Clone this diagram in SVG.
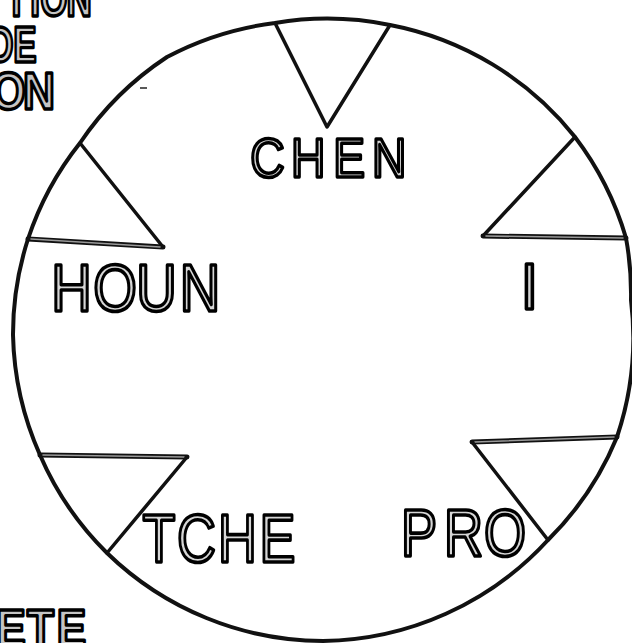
<svg xmlns="http://www.w3.org/2000/svg" width="632" height="643" viewBox="0 0 632 643">
<style>
.bg{fill:#fff}
.ring{fill:none;stroke:#111;stroke-width:4;stroke-linejoin:round}
.edge{fill:none;stroke:#111;stroke-width:3.5;stroke-linejoin:round;stroke-linecap:round}
.hatch{fill:none;stroke:#111;stroke-width:5;stroke-linecap:round}
.hatch-in{fill:none;stroke:#9a9a9a;stroke-width:1.6;stroke-linecap:round}
.lbl{font-family:"Liberation Sans",Arial,sans-serif;fill:#d6d6d6;stroke:#000;stroke-width:3.6;stroke-linejoin:round;text-anchor:middle}
.frag{font-family:"Liberation Sans",Arial,sans-serif;font-weight:bold;fill:#c4c4c4;stroke:#000;stroke-width:3.4;stroke-linejoin:round;text-anchor:middle}
</style>
<rect class="bg" x="0" y="0" width="632" height="643"/>
<g id="ring">
<path class="ring" d="M275,23 A311,311 0 0 1 390,25 A311,311 0 0 1 575,137 A311,311 0 0 1 626,238 A311,311 0 0 1 631,300 A311,311 0 0 1 617,437 A311,311 0 0 1 548,540 A311,311 0 0 1 323,641 A311,311 0 0 1 107,553 A311,311 0 0 1 40,455 A311,311 0 0 1 13,335 A311,311 0 0 1 28,239 A311,311 0 0 1 80,143 A311,311 0 0 1 167,57 A311,311 0 0 1 275,23 Z"/>
</g>
<g id="triangles">
<polyline class="edge" points="275,23 327,127 390,25"/>
<polyline class="edge" points="80,143 163,247"/>
<line class="hatch" x1="163" y1="247" x2="28" y2="239"/>
<line class="hatch-in" x1="160" y1="247" x2="31" y2="239"/>
<polyline class="edge" points="575,137 483,236"/>
<line class="hatch" x1="483" y1="236" x2="626" y2="238"/>
<line class="hatch-in" x1="486" y1="236" x2="623" y2="238"/>
<line class="hatch" x1="617" y1="437" x2="472" y2="442"/>
<line class="hatch-in" x1="614" y1="437" x2="475" y2="442"/>
<polyline class="edge" points="472,442 548,540"/>
<line class="hatch" x1="40" y1="455" x2="187" y2="457"/>
<line class="hatch-in" x1="43" y1="455" x2="184" y2="457"/>
<polyline class="edge" points="187,457 107,553"/>
</g>
<g id="labels">
<text id="chen" class="lbl" font-size="56" transform="translate(0,177) scale(0.85,1)" x="314.7 362.7 410.8 457.9" y="0">CHEN</text>
<text id="houn" class="lbl" font-size="66" transform="translate(0,311) scale(0.85,1)" x="84.1 135.3 184.1 235.3" y="0">HOUN</text>
<text id="i" class="lbl" font-size="64" x="529.5" y="309">I</text>
<text id="tche" class="lbl" font-size="69" transform="translate(0,562) scale(0.78,1)" x="203.8 251.9 304.5 355.8" y="0">TCHE</text>
<text id="pro" class="lbl" font-size="66" transform="translate(0,556) scale(0.82,1)" x="511 565.2 615.9" y="0">PRO</text>
</g>
<g id="fragments">
<text class="frag" font-size="50" transform="translate(0,16) scale(0.7,1)" x="23.6 50 77.1 112.9" y="0">TION</text>
<text class="frag" font-size="50" transform="translate(0,62) scale(0.7,1)" x="1.4 35.7" y="0">DE</text>
<text class="frag" font-size="52" transform="translate(0,109) scale(0.85,1)" x="10 45.9" y="0">ON</text>
<text class="frag" font-size="52" transform="translate(0,646) scale(0.85,1)" x="12.9 47.6 84.1" y="0">ETE</text>
<line x1="140" y1="88" x2="147" y2="88" stroke="#222" stroke-width="1.5"/>
</g>
</svg>
